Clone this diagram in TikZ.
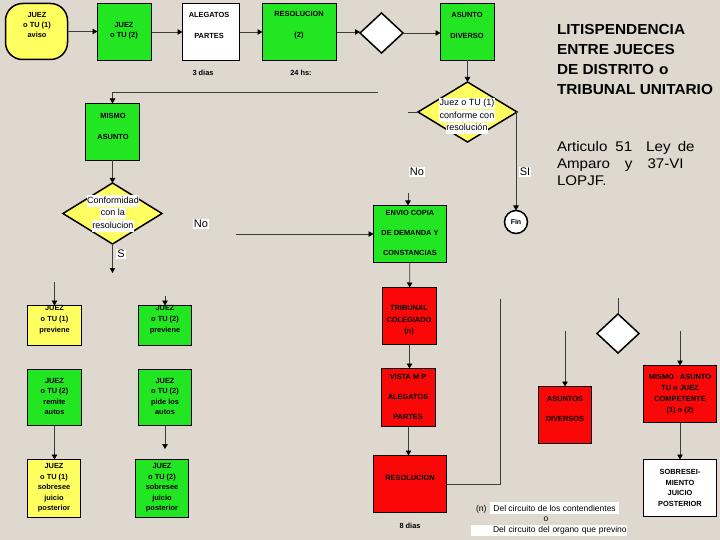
\documentclass[tikz,border=0pt]{standalone}
\usepackage{fontspec}
\setmainfont{Liberation Sans}
\newfontfamily\titlefont[FakeStretch=1.06]{Liberation Sans}
\newfontfamily\parafont[FakeStretch=1.08]{Liberation Sans}
\usetikzlibrary{arrows.meta,shapes.geometric}
\definecolor{bgc}{RGB}{222,216,206}
\definecolor{gbox}{RGB}{34,230,34}
\definecolor{ybox}{RGB}{255,255,96}
\definecolor{rbox}{RGB}{250,8,8}
\definecolor{lnc}{RGB}{60,60,60}
\newcommand\wbg[1]{{\setlength{\fboxsep}{0.5pt}\colorbox{white}{\strut #1}}}
\begin{document}
\begin{tikzpicture}[x=1pt,y=-1pt,
  every node/.style={inner sep=0pt,outer sep=0pt},
  box/.style 2 args={draw=black,line width=1.5pt,minimum width=#1pt,minimum height=#2pt},
  dia/.style 2 args={diamond,draw=black,line width=1.5pt,minimum width=#1pt,minimum height=#2pt},
  txt/.style={font=\bfseries\fontsize{7.4}{10.5}\selectfont,align=center},
  dtxt/.style={font=\fontsize{9}{10.5}\selectfont,align=center},
  lbl/.style={fill=white,inner xsep=1pt,inner ysep=1.5pt,font=\fontsize{11}{12}\selectfont},
  arr/.style={draw=lnc,line width=0.8pt,-{Triangle[length=5pt,width=5.5pt,color=black]}},
  ln/.style={draw=lnc,line width=0.8pt}]
\useasboundingbox (0,0) rectangle (720,540);
\fill[bgc] (0,0) rectangle (720,540);

% ---- boxes
\node[box={62}{56},fill=ybox,rounded corners=17pt] (aviso) at (36.5,31.5) {};
\node[box={54}{57},fill=gbox] (j2) at (124.5,32) {};
\node[box={57}{57},fill=white] (aleg) at (211,32) {};
\node[box={74}{57},fill=gbox] (res2) at (299.5,32) {};
\node[dia={43}{40},fill=white] (dia1) at (381.5,33) {};
\node[box={54}{57},fill=gbox] (asunto) at (467.5,32) {};
\node[dia={99}{60},fill=ybox] (dia2) at (467.5,112) {};
\node[box={54}{57},fill=gbox] (mismo) at (112.5,132) {};
\node[dia={99}{61},fill=ybox] (dia3) at (112.5,213.5) {};
\node[box={73}{57},fill=gbox] (envio) at (410,234) {};
\node[circle,draw=black,line width=1.5pt,fill=white,minimum size=23pt,font=\bfseries\fontsize{7}{8}\selectfont] (fin) at (516,222) {Fin};
\node[box={54}{57},fill=rbox] (trib) at (409.5,316) {};
\node[box={54}{58},fill=rbox] (vista) at (408.5,397.5) {};
\node[box={73}{57},fill=rbox] (res8) at (410,484) {};
\node[box={53}{57},fill=rbox] (asdiv) at (565,415) {};
\node[dia={42}{39},fill=white] (dia4) at (618,333.5) {};
\node[box={73}{57},fill=rbox] (mismo2) at (680,394) {};
\node[box={73}{57},fill=white] (sobre) at (680,488) {};
\node[box={54}{40},fill=ybox] (prev1) at (54.5,325.5) {};
\node[box={53}{40},fill=gbox] (prev2) at (165,325.5) {};
\node[box={54}{56},fill=gbox] (remite) at (54.5,397.5) {};
\node[box={53}{56},fill=gbox] (pide) at (165,397.5) {};
\node[box={53}{58},fill=ybox] (sob1) at (54,488.5) {};
\node[box={53}{58},fill=gbox] (sob2) at (162,488.5) {};

% ---- box texts
\node[txt] (avisot) at (37,25) {JUEZ\\[-0.5pt]o TU (1)\\[-0.5pt]aviso};
\node[txt] (j2t) at (124,30.5) {JUEZ\\o TU (2)};
\node[txt] (alegt) at (209,25.5) {ALEGATOS\\[10.5pt]PARTES};
\node[txt] (res2t) at (299,25.5) {RESOLUCION\\[10.5pt](2)};
\node[txt] (asuntot) at (467,25.5) {ASUNTO\\[10.5pt]DIVERSO};
\node[txt] (mismot) at (113,126.5) {MISMO\\[10.5pt]ASUNTO};
\node[txt] (enviot) at (410,233) {ENVIO COPIA\\[9.5pt]DE DEMANDA Y\\[9.5pt]CONSTANCIAS};
\node[txt] (tribt) at (409,320.5) {TRIBUNAL\\[1pt]COLEGIADO\\[1pt](n)};
\node[txt] (vistat) at (408,397) {VISTA M P\\[9.5pt]ALEGATOS\\[9.5pt]PARTES};
\node[txt] (res8t) at (410,478) {RESOLUCION};
\node[txt] (asdivt) at (565,409) {ASUNTOS\\[9.5pt]DIVERSOS};
\node[txt] (mismo2t) at (680,394.5) {MISMO\hspace{6pt}ASUNTO\\[0.5pt]TU o JUEZ\\[0.5pt]COMPETENTE\\[0.5pt](1) o (2)};
\node[txt] (sobret) at (680,488) {SOBRESEI-\\MIENTO\\JUICIO\\POSTERIOR};
\node[txt] (prev1t) at (54.5,320) {JUEZ\\[0.5pt]o TU (1)\\[0.5pt]previene};
\node[txt] (prev2t) at (165,320) {JUEZ\\[0.5pt]o TU (2)\\[0.5pt]previene};
\node[txt] (remitet) at (54.5,396.5) {JUEZ\\o TU (2)\\remite\\autos};
\node[txt] (pidet) at (165,396.5) {JUEZ\\o TU (2)\\pide los\\autos};
\node[txt] (sob1t) at (54,488) {JUEZ\\o TU (1)\\sobresee\\juicio\\posterior};
\node[txt] (sob2t) at (162,488) {JUEZ\\o TU (2)\\sobresee\\juicio\\posterior};
\node[dtxt] (dia2t) at (467,116) {\wbg{Juez o TU (1)}\\\wbg{conforme con}\\\wbg{resolución}};
\node[dtxt] (dia3t) at (113,213.5) {\wbg{Conformidad}\\\wbg{con la}\\\wbg{resolucion}};

% ---- small notes
\node[txt] (n3) at (203,73) {3 dias};
\node[txt] (n24) at (301,73) {24 hs:};
\node[txt] (n8) at (410,526) {8 dias};

% ---- labels
\node[lbl] (lNo1) at (201,224) {No};
\node[lbl] (lS) at (121,254) {S};
\node[lbl] (lNo2) at (417,172) {No};
\node[lbl] (lSI) at (525,172) {SI};

% ---- title
\node[anchor=base west,font=\titlefont\bfseries\fontsize{14.5}{16}\selectfont] (t1) at (557,35) {LITISPENDENCIA};
\node[anchor=base west,font=\titlefont\bfseries\fontsize{14.5}{16}\selectfont] (t2) at (557,55) {ENTRE JUECES};
\node[anchor=base west,font=\titlefont\bfseries\fontsize{14.5}{16}\selectfont] (t3) at (557,75) {DE DISTRITO\hspace{5pt}o};
\node[anchor=base west,font=\titlefont\bfseries\fontsize{14.5}{16}\selectfont] (t4) at (557,95) {TRIBUNAL UNITARIO};
\node[anchor=base west,font=\parafont\fontsize{14}{16}\selectfont] (p1) at (557,152) {Articulo\hspace{8pt}51\hspace{14pt}Ley\hspace{3pt} de};
\node[anchor=base west,font=\parafont\fontsize{14}{16}\selectfont] (p2) at (557,169) {Amparo\hspace{15pt}y\hspace{15pt}37-VI};
\node[anchor=base west,font=\parafont\fontsize{14}{16}\selectfont] (p3) at (557,186) {LOPJF.};

% ---- legend
\node[anchor=west,font=\fontsize{8.5}{10}\selectfont] (leg1) at (476,508) {(n)\hspace{4pt}\colorbox{white}{Del circuito de los contendientes}};
\node[font=\fontsize{8.5}{10}\selectfont] (lego) at (546,519) {o};
\node[anchor=west,fill=white,text width=156pt,align=left,inner ysep=1.5pt,font=\fontsize{8.5}{10}\selectfont] (leg2) at (471,530.5) {\hspace*{22pt}Del circuito del organo que previno};

% ---- coordinates for free ends
\coordinate (topl) at (378,92);
\coordinate (ntop) at (408,193);
\coordinate (nol) at (236,234);
\coordinate (vr) at (500,299);
\coordinate (send) at (112.5,273);
\coordinate (p1top) at (54.5,282);
\coordinate (p2top) at (165,296);
\coordinate (pideend) at (165,449);
\coordinate (adtop) at (565,331);
\coordinate (d4top) at (618,298);
\coordinate (m2top) at (680,331);

% ---- connectors
\draw[arr] (aviso.east) -- (aviso.east -| j2.west);
\draw[arr] (j2) -- (aleg);
\draw[arr] (aleg) -- (res2);
\draw[arr] (res2.east) -- (res2.east -| dia1.west);
\draw[arr] (dia1.east) -- (dia1.east -| asunto.west);
\draw[arr] (asunto) -- (dia2);
\draw[ln] (dia2.west) -- ++(-10,0);
\draw[arr] (topl) -- (topl -| mismo.north) -- (mismo.north);
\draw[arr] (mismo) -- (dia3);
\draw[arr] (fin.north |- dia2.east) -- (fin.north);
\draw[arr] (ntop) -- (ntop |- envio.north);
\draw[arr] (nol) -- (envio.west);
\draw[arr] (envio) -- (trib);
\draw[arr] (trib.south) -- (trib.south |- vista.north);
\draw[arr] (vista.south) -- (vista.south |- res8.north);
\draw[ln] (res8.east) -| (vr);
\draw[arr] (dia3.south) -- (send);
\draw[arr] (p1top) -- (prev1.north);
\draw[arr] (p2top) -- (prev2.north);
\draw[arr] (remite.south) -- (remite.south |- sob1.north);
\draw[arr] (pide.south) -- (pideend);
\draw[arr] (adtop) -- (asdiv.north);
\draw[ln] (d4top) -- (dia4.north);
\draw[arr] (m2top) -- (mismo2.north);
\draw[arr] (mismo2) -- (sobre);
\end{tikzpicture}
\end{document}
